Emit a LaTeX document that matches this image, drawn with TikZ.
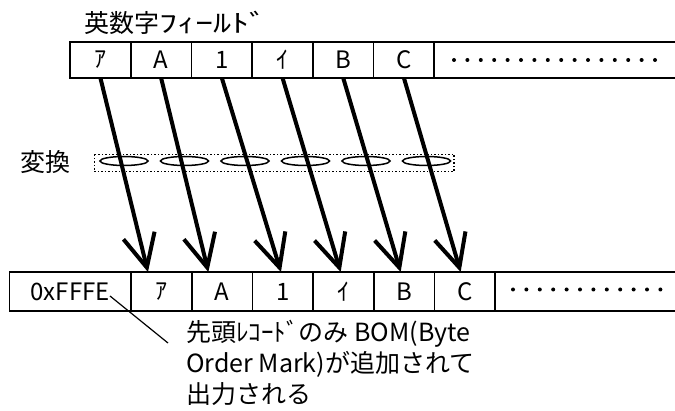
\documentclass[tikz,border=0pt]{standalone}
\usepackage{fontspec}
\usepackage{graphicx}
\setmainfont{Noto Sans CJK JP}
\usetikzlibrary{positioning,arrows.meta}
\tikzset{
  cell/.style={draw, line width=1.8pt, minimum width=60.7pt, minimum height=36pt,
    inner sep=0pt, outer sep=0pt, font=\fontsize{24}{28}\selectfont},
  cellb/.style={cell, minimum height=39pt},
  lbl/.style={inner sep=0pt, font=\fontsize{25}{31}\selectfont},
  conv/.style={line width=4pt, -{Straight Barb[length=33pt,width=32pt]}},
}
\begin{document}
\begin{tikzpicture}[x=1pt,y=-1pt]
  \useasboundingbox (0,0) rectangle (675,411);
  %input row
  \node[lbl, anchor=west] (fieldlbl) at (84,23) {英数字\scalebox{1.45}[1]{ﾌｨｰﾙﾄﾞ}};
  \node[cell, anchor=north west] (t1) at (70,41.7) {ｱ};
  \node[cell, right=0pt of t1] (t2) {A};
  \node[cell, right=0pt of t2] (t3) {1};
  \node[cell, right=0pt of t3] (t4) {ｲ};
  \node[cell, right=0pt of t4] (t5) {B};
  \node[cell, right=0pt of t5] (t6) {C};
  \draw[line width=1.8pt] (t6.north east) -- (675,41.7) (t6.south east) -- (675,77.7);
  \foreach \i in {0,...,15}
    \fill (454+13.4*\i,60) circle (2pt);
  %output row
  \node[cellb, anchor=north west, minimum width=121.5pt] (b0) at (9.5,272) {0xFFFE\hspace{8pt}};
  \node[cellb, right=0pt of b0] (b1) {ｱ};
  \node[cellb, right=0pt of b1] (b2) {A};
  \node[cellb, right=0pt of b2] (b3) {1};
  \node[cellb, right=0pt of b3] (b4) {ｲ};
  \node[cellb, right=0pt of b4] (b5) {B};
  \node[cellb, right=0pt of b5] (b6) {C};
  \draw[line width=1.8pt] (b6.north east) -- (675,272) (b6.south east) -- (675,311);
  \foreach \i in {0,...,11}
    \fill (513+13.4*\i,289.5) circle (2pt);
  %conversion
  \node[lbl, anchor=west] (convlbl) at (20,162) {変換};
  \draw[line width=1.5pt, dotted] (94.3,154.3) rectangle (454,171.7);
  \foreach \i in {0,...,5}
    \draw[line width=1.5pt] (124+60.5*\i,161) ellipse (24 and 4.5);
  \foreach \s/\e/\dx in {t1/b1/-13.4, t2/b2/-13.7, t3/b3/-1.8, t4/b4/-2.8, t5/b5/-3.5, t6/b6/-4.2}
    \draw[conv] (\s.south) -- ([xshift=\dx pt]\e.north);
  %BOM note
  \node[lbl, anchor=north west, align=left] (note) at (186,320)
    {先頭ﾚｺｰﾄﾞのみ BOM(Byte\\Order Mark)が追加されて\\出力される};
  \coordinate (bomstart) at ([shift={(-21,4.5)}]b0.east);
  \draw[line width=1.2pt] (bomstart) -- ([shift={(-18,23)}]note.north west);
\end{tikzpicture}
\end{document}
